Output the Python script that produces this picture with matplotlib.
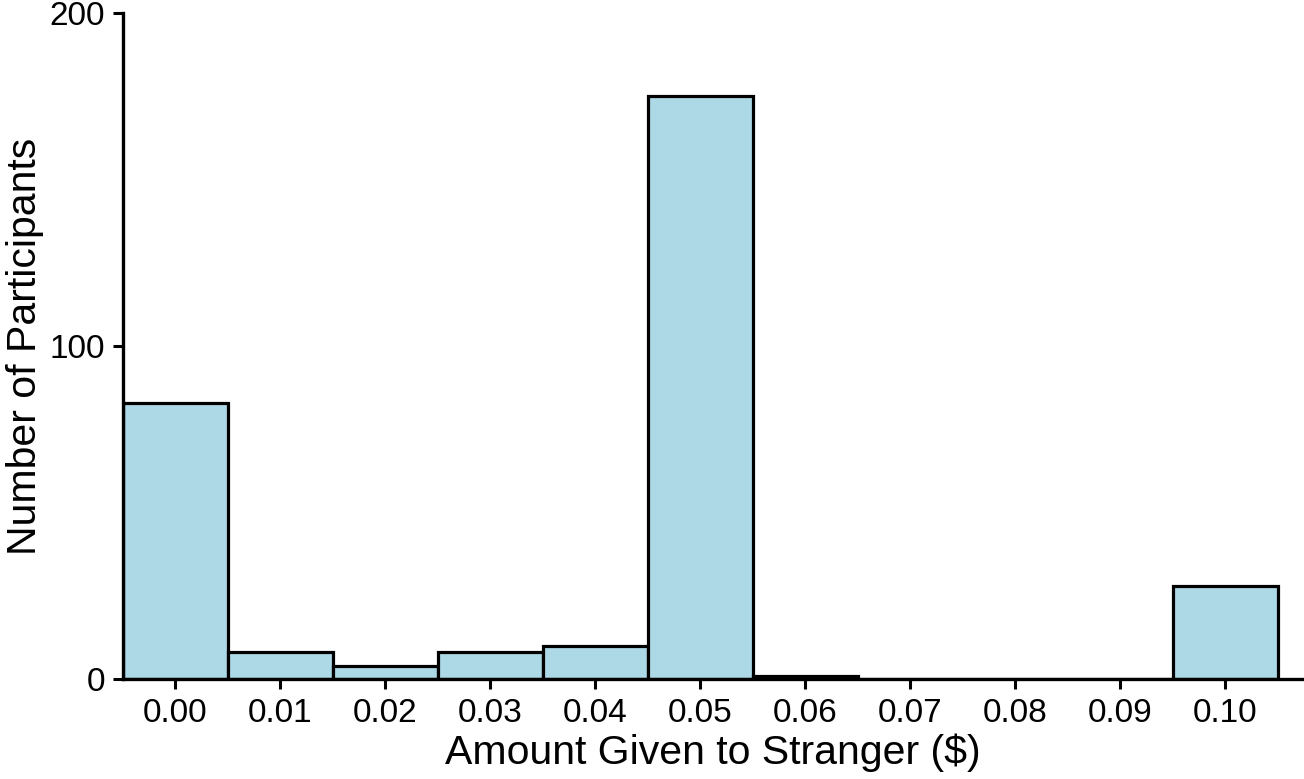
import matplotlib
matplotlib.use("Agg")
import matplotlib.pyplot as plt

amounts = [0.00, 0.01, 0.02, 0.03, 0.04, 0.05, 0.06, 0.07, 0.08, 0.09, 0.10]
counts = [83, 8, 4, 8, 10, 175, 1, 0, 0, 0, 28]
tick_labels = ["0.00", "0.01", "0.02", "0.03", "0.04", "0.05", "0.06", "0.07", "0.08", "0.09", "0.10"]
y_ticks = [0, 100, 200]

plt.rcParams['font.family'] = ['Liberation Sans', 'DejaVu Sans']

fig = plt.figure(figsize=(13.04, 7.79), dpi=100)
ax = fig.add_axes([0.0943, 0.1284, 0.9042, 0.8549])

ax.bar(amounts, counts, width=0.01, color="#ADD8E6", edgecolor="black", linewidth=2.3, zorder=2)

ax.set_xlim(-0.005, 0.1073)
ax.set_ylim(0, 200)
ax.set_xticks(amounts)
ax.set_xticklabels(tick_labels)
ax.set_yticks(y_ticks)

for s in ["top", "right"]:
    ax.spines[s].set_visible(False)
for s in ["left", "bottom"]:
    ax.spines[s].set_linewidth(2.4)
    ax.spines[s].set_zorder(3)

ax.tick_params(axis="both", labelsize=24, width=2.2, length=7, color="black", pad=6)
ax.tick_params(axis="x", pad=7)
ax.set_xlabel("Amount Given to Stranger ($)", fontsize=29.5, labelpad=3)
ax.set_ylabel("Number of Participants", fontsize=29.5, labelpad=4)

fig.savefig("out.png", dpi=100)
